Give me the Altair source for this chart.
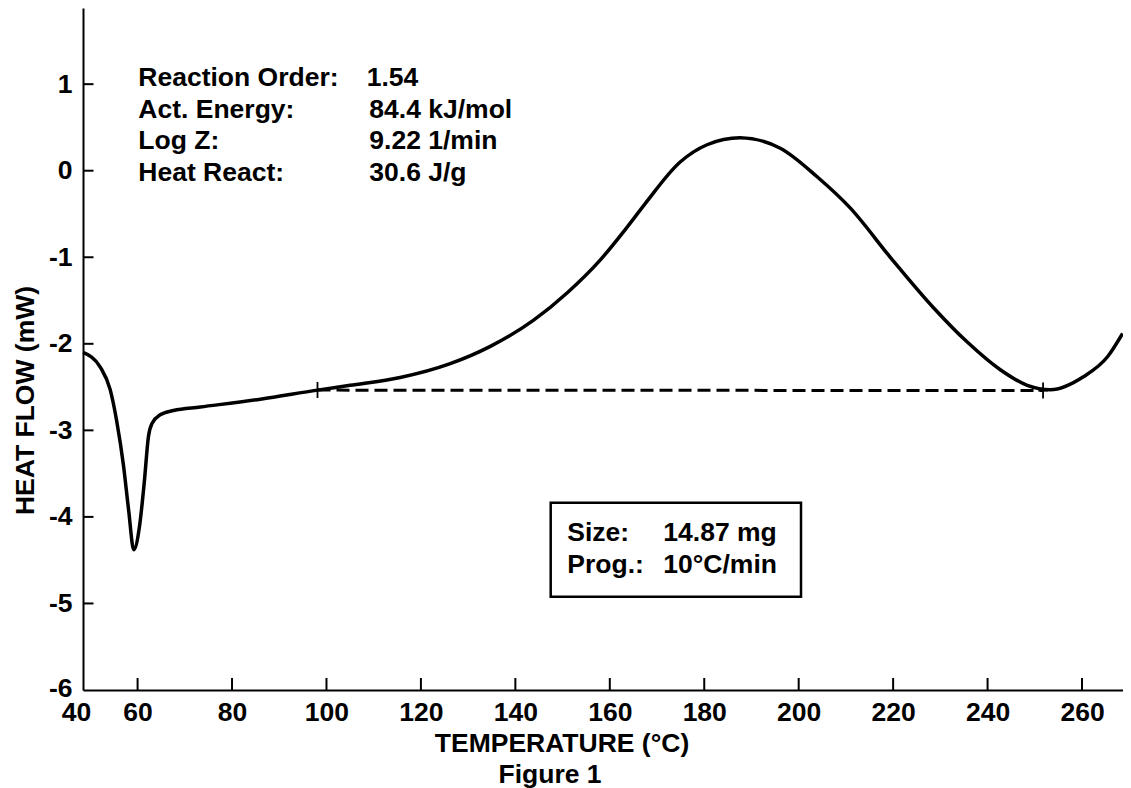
import altair as alt
import pandas as pd

# ---- data ----
temperature = [48.44, 52.1, 54.2, 55.6, 57.0, 58.1, 59.2, 60.4, 61.4, 62.3, 63.05,
               64.8, 67.6, 73.3, 86.0, 98.1, 105.0, 115.6, 126.2, 134.7, 143.8,
               151.0, 158.0, 163.7, 167.5, 174.9, 180.6, 187.6, 196.1, 203.9,
               210.9, 219.4, 228.5, 235.7, 242.7, 248.4, 253.3, 260.3, 265.4, 268.6]
heat_flow = [-2.10, -2.27, -2.53, -2.90, -3.40, -3.92, -4.38, -4.11, -3.61, -3.07, -2.92,
             -2.82, -2.77, -2.73, -2.64, -2.535, -2.48, -2.39, -2.23, -2.03, -1.73,
             -1.41, -1.03, -0.65, -0.38, 0.10, 0.30, 0.38, 0.26, -0.07,
             -0.43, -1.00, -1.58, -1.98, -2.30, -2.48, -2.53, -2.38, -2.15, -1.88]

baseline_x = [98.1, 251.75]
baseline_y = [-2.535, -2.54]

x_origin = 48.44
x_end = 268.68
x_ticks = [60, 80, 100, 120, 140, 160, 180, 200, 220, 240, 260]
y_ticks = [-5, -4, -3, -2, -1, 0, 1]
y_labels = [-6, -5, -4, -3, -2, -1, 0, 1]

params_names = ["Reaction Order:", "Act. Energy:", "Log Z:", "Heat React:"]
params_values = ["1.54", "84.4 kJ/mol", "9.22 1/min", "30.6 J/g"]
box_names = ["Size:", "Prog.:"]
box_values = ["14.87 mg", "10\u00b0C/min"]

FONT = "Liberation Sans"
FS = 26.5
W, H = 1040, 682

xscale = alt.Scale(domain=[x_origin, x_end], nice=False, zero=False)
yscale = alt.Scale(domain=[-6, 1.88], nice=False, zero=False)

curve_df = pd.DataFrame({"T": temperature, "HF": heat_flow})
base_df = pd.DataFrame({"T": baseline_x, "HF": baseline_y})

x_axis = alt.Axis(
    values=[x_origin] + x_ticks,
    labelExpr="datum.value < 50 ? '40' : datum.label",
    labelOffset={"condition": {"test": "datum.value < 50", "value": -7}, "value": 0},
    labelFlush=False, labelOverlap=False, labelBound=False,
    ticks=False, grid=False, domainWidth=2, domainColor="black",
    labelFont=FONT, labelFontSize=FS, labelFontWeight="bold", labelColor="black",
    labelPadding=9, labelBaseline="top",
    title="TEMPERATURE (\u00b0C)", titleFont=FONT, titleFontSize=FS, titleFontWeight="bold",
    titleColor="black", titleX=478.5, titleY=61, titleAlign="center",
    titleBaseline="alphabetic",
)
y_axis = alt.Axis(
    values=y_labels,
    labelExpr="(datum.value < 0 ? '-' : '') + abs(datum.value)",
    labelFlush=False, labelOverlap=False, labelBound=False,
    ticks=False, grid=False, domainWidth=2, domainColor="black",
    labelFont=FONT, labelFontSize=FS, labelFontWeight="bold", labelColor="black",
    labelPadding=11, labelBaseline="middle",
    labelOffset={"condition": {"test": "datum.value < -5.5", "value": -2}, "value": 0},
    title="HEAT FLOW (mW)", titleFont=FONT, titleFontSize=FS, titleFontWeight="bold",
    titleColor="black", titleAngle=270, titleX=-49.4, titleY=392, titleAlign="center",
    titleBaseline="alphabetic",
)

curve = alt.Chart(curve_df).mark_line(
    color="black", strokeWidth=3.5, interpolate="monotone"
).encode(
    x=alt.X("T:Q", scale=xscale, axis=x_axis),
    y=alt.Y("HF:Q", scale=yscale, axis=y_axis),
)

dashed = alt.Chart(base_df).mark_line(
    color="black", strokeWidth=3, strokeDash=[13, 6]
).encode(
    x=alt.X("T:Q", scale=xscale),
    y=alt.Y("HF:Q", scale=yscale),
)

crosses = alt.Chart(base_df).mark_point(
    shape="M0,-1L0,1M-0.6,0L0.6,0", size=256, filled=False,
    stroke="black", strokeWidth=1.8, opacity=1
).encode(
    x=alt.X("T:Q", scale=xscale),
    y=alt.Y("HF:Q", scale=yscale),
)

xt = alt.Chart(pd.DataFrame({"T": x_ticks})).mark_rule(
    color="black", strokeWidth=2
).encode(
    x=alt.X("T:Q", scale=xscale),
    y=alt.value(H), y2=alt.value(H - 12),
)
yt = alt.Chart(pd.DataFrame({"HF": y_ticks})).mark_rule(
    color="black", strokeWidth=2
).encode(
    y=alt.Y("HF:Q", scale=yscale),
    x=alt.value(0), x2=alt.value(10.5),
)

layers = [curve, dashed, crosses, xt, yt]

def label(text, x, y, align="left"):
    return alt.Chart(pd.DataFrame({"t": [text]})).mark_text(
        font=FONT, fontSize=FS, fontWeight="bold", color="black",
        align=align, baseline="alphabetic"
    ).encode(text="t:N", x=alt.value(x), y=alt.value(y))

row_y = [78, 109.6, 141.3, 173]
for i, (n, v) in enumerate(zip(params_names, params_values)):
    layers.append(label(n, 55.3, row_y[i]))
    layers.append(label(v, 283.7 if i == 0 else 286.3, row_y[i]))

box = alt.Chart(pd.DataFrame({"b": [0]})).mark_rect(
    fill="white", stroke="black", strokeWidth=2.5
).encode(
    x=alt.value(467.7), x2=alt.value(718), y=alt.value(494.7), y2=alt.value(588.7)
)
layers.append(box)
box_y = [533, 564.7]
for i, (n, v) in enumerate(zip(box_names, box_values)):
    layers.append(label(n, 484.3, box_y[i]))
    layers.append(label(v, 580.3, box_y[i]))

layers.append(label("Figure 1", 467, 775, align="center"))

chart = alt.layer(*layers).properties(
    width=W, height=H,
    autosize=alt.AutoSizeParams(type="none"),
    padding={"left": 75, "top": 0, "right": 0, "bottom": 98},
).configure(background="white").configure_view(stroke=None)

chart.save("out.html", embed_options={"renderer": "svg", "actions": False})
